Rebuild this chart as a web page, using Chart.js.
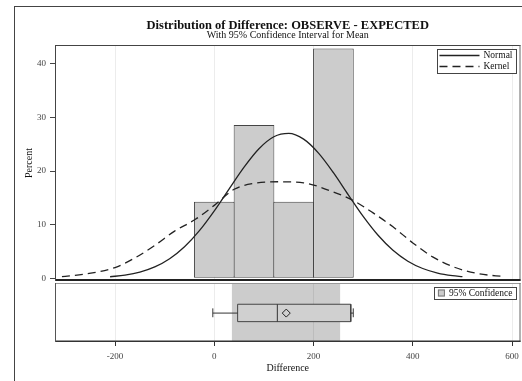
<!DOCTYPE html>
<html>
<head>
<meta charset="utf-8">
<script src="https://cdn.jsdelivr.net/npm/chart.js@4/dist/chart.umd.min.js"></script>
<style>
  html, body { margin: 0; padding: 0; background: #fff; overflow: hidden; width: 522px; height: 381px; }
  #frame { position: absolute; left: 14px; top: 6px; width: 600px; height: 500px; border: 1px solid #444; }
  #histChart { position: absolute; left: 0; top: 0; }
  #boxChart { position: absolute; left: 0; top: 282px; }
</style>
</head>
<body>
<div id="frame"></div>
<canvas id="histChart" width="522" height="282" style="width:522px;height:282px"></canvas>
<canvas id="boxChart" width="522" height="99" style="width:522px;height:99px"></canvas>
<script>
// histogram bins (midpoints) and percent of observations
const binMids = [0, 80, 160, 240];
const binPercent = [14.29, 28.57, 14.29, 42.86];

// fitted normal curve
const normalX = [-210, -180, -150, -120, -90, -60, -30, 0, 30, 60, 90, 120, 150, 180, 210, 240, 270, 300, 330, 360, 390, 420, 450, 480, 500];
const normalY = [0.29, 0.6, 1.16, 2.13, 3.66, 5.89, 8.89, 12.59, 16.69, 20.74, 24.17, 26.4, 27.03, 25.95, 23.35, 19.7, 15.57, 11.54, 8.02, 5.22, 3.19, 1.83, 0.98, 0.49, 0.3];

// kernel density curve
const kernelX = [-307, -260, -200, -160, -119, -80, -38, 0, 40, 80, 130, 180, 240, 280, 320, 360, 400, 440, 480, 530, 586];
const kernelY = [0.3, 0.8, 2.0, 3.8, 6.2, 8.8, 11.0, 13.6, 16.6, 17.7, 18.0, 17.8, 16.1, 14.5, 12.2, 9.6, 6.6, 4.0, 2.2, 0.9, 0.3];

// box plot: min, q1, median, q3, max
const boxStats = [-3, 47, 127, 275, 280];
const meanDiff = 145;
const ciMean = [35, 254];

const xTicks = [-200, 0, 200, 400, 600];
const yTicks = [0, 10, 20, 30, 40];

const serif = 'Liberation Serif, Times New Roman, serif';
const xMin = -321;
const xMax = 617;

// keep the axis from pushing the plot area in
const noPad = (s) => {
  s.paddingLeft = 0;
  s.paddingRight = 0;
  s.paddingTop = 0;
  s.paddingBottom = 0;
};

// box outline around the chart area
const panelFrame = {
  id: 'panelFrame',
  afterDatasetsDraw(chart, args, opts) {
    const { ctx, chartArea: a } = chart;
    const sides = opts.sides || {};
    ctx.save();
    const line = (s, x0, y0, x1, y1) => {
      const [color, width] = s;
      ctx.strokeStyle = color;
      ctx.lineWidth = width;
      ctx.beginPath();
      ctx.moveTo(x0, y0);
      ctx.lineTo(x1, y1);
      ctx.stroke();
    };
    line(sides.top, a.left, a.top + 0.5, a.right, a.top + 0.5);
    line(sides.right, a.right - 0.5, a.top, a.right - 0.5, a.bottom);
    line(sides.bottom, a.left, a.bottom - sides.bottom[1] / 2, a.right, a.bottom - sides.bottom[1] / 2);
    line(sides.left, a.left + 0.5, a.top, a.left + 0.5, a.bottom);
    ctx.restore();
  },
};

// legend box drawn inside the top right corner
const insideLegend = {
  id: 'insideLegend',
  afterDraw(chart, args, opts) {
    const { ctx, chartArea: a } = chart;
    const items = opts.items;
    ctx.save();
    ctx.font = '9.5px ' + serif;
    const textW = Math.max(...items.map((it) => ctx.measureText(it.label).width));
    const w = opts.padLeft + opts.symbolWidth + 4 + textW + 4;
    const h = items.length * opts.rowHeight + 2;
    const x = a.right - 4 - w;
    const y = a.top + 4;
    ctx.fillStyle = '#fff';
    ctx.fillRect(x, y, w, h);
    ctx.strokeStyle = '#444';
    ctx.lineWidth = 1;
    ctx.strokeRect(Math.round(x) + 0.5, Math.round(y) + 0.5, Math.round(w), Math.round(h));
    items.forEach((it, i) => {
      const cy = y + 1 + opts.rowHeight * (i + 0.5);
      const sx = x + opts.padLeft;
      if (it.swatch) {
        ctx.fillStyle = it.swatch;
        ctx.fillRect(sx, cy - 3.5, 7, 7);
        ctx.strokeStyle = '#777';
        ctx.strokeRect(sx + 0.5, cy - 3, 6, 6);
      } else {
        ctx.strokeStyle = '#222';
        ctx.lineWidth = 1.3;
        ctx.setLineDash(it.dash || []);
        ctx.beginPath();
        ctx.moveTo(sx, cy);
        ctx.lineTo(sx + opts.symbolWidth, cy);
        ctx.stroke();
        ctx.setLineDash([]);
      }
      ctx.fillStyle = '#111';
      ctx.textBaseline = 'middle';
      ctx.textAlign = 'left';
      ctx.fillText(it.label, sx + opts.symbolWidth + 4, cy);
    });
    ctx.restore();
  },
};

const toPoints = (xs, ys) => xs.map((x, i) => ({ x, y: ys[i] }));

const histConfig = {
  type: 'bar',
  data: {
    datasets: [
      {
        type: 'bar',
        label: 'Percent',
        data: toPoints(binMids, binPercent),
        backgroundColor: '#cccccc',
        borderColor: '#444',
        borderWidth: 1,
        borderSkipped: false,
        barPercentage: 1.025,
        categoryPercentage: 1,
        order: 2,
      },
      {
        type: 'line',
        label: 'Normal',
        data: toPoints(normalX, normalY),
        borderColor: '#222',
        borderWidth: 1.3,
        pointRadius: 0,
        cubicInterpolationMode: 'monotone',
        fill: false,
        order: 0,
      },
      {
        type: 'line',
        label: 'Kernel',
        data: toPoints(kernelX, kernelY),
        borderColor: '#222',
        borderWidth: 1.3,
        borderDash: [8, 5],
        pointRadius: 0,
        cubicInterpolationMode: 'monotone',
        fill: false,
        order: 1,
      },
    ],
  },
  options: {
    responsive: false,
    animation: false,
    layout: { autoPadding: false, padding: { left: 0, right: 1.5, top: 0, bottom: 1 } },
    plugins: {
      legend: { display: false },
      tooltip: { enabled: false },
      title: {
        display: true,
        fullSize: false,
        text: 'Distribution of Difference: OBSERVE - EXPECTED',
        color: '#111',
        font: { family: serif, size: 12.5, weight: 'bold', lineHeight: 1 },
        padding: { top: 19.5, bottom: 0 },
      },
      subtitle: {
        display: true,
        fullSize: false,
        text: 'With 95% Confidence Interval for Mean',
        color: '#111',
        font: { family: serif, size: 10, lineHeight: 1 },
        padding: { top: -1.5, bottom: 4.5 },
      },
      panelFrame: {
        sides: { top: ['#444', 1], right: ['#666', 1], bottom: ['#222', 2], left: ['#444', 1] },
      },
      insideLegend: {
        padLeft: 2,
        symbolWidth: 40,
        rowHeight: 11,
        items: [
          { label: 'Normal' },
          { label: 'Kernel', dash: [8, 5] },
        ],
      },
    },
    scales: {
      x: {
        type: 'linear',
        min: xMin,
        max: xMax,
        offset: false,
        afterBuildTicks: (s) => { s.ticks = xTicks.map((v) => ({ value: v })); },
        afterFit: (s) => { s.height = 0; noPad(s); },
        ticks: { display: false },
        grid: { offset: false, color: '#ececec', drawTicks: false },
        border: { display: false },
      },
      y: {
        type: 'linear',
        min: -0.5,
        max: 43.5,
        afterBuildTicks: (s) => { s.ticks = yTicks.map((v) => ({ value: v })); },
        afterFit: (s) => { s.width = 55; noPad(s); },
        ticks: { color: '#444', padding: 4, font: { family: serif, size: 9 } },
        grid: { drawOnChartArea: false, drawTicks: true, tickLength: 5, tickColor: '#444' },
        border: { display: false },
        title: {
          display: true,
          text: 'Percent',
          color: '#111',
          font: { family: serif, size: 10, lineHeight: 1.2 },
          padding: { top: 23.5, bottom: 0 },
        },
      },
    },
  },
  plugins: [panelFrame, insideLegend],
};

new Chart(document.getElementById('histChart'), histConfig);

// lower panel: box plot and confidence band for the mean
const boxLow = 0.345;
const boxHigh = 0.64;
const whiskerY = 0.49;
const capLow = 0.42;
const capHigh = 0.57;
const [bMin, bQ1, bMed, bQ3, bMax] = boxStats;

const segment = (points, extra) => Object.assign({
  type: 'line',
  data: points,
  borderColor: '#333',
  borderWidth: 1,
  pointRadius: 0,
  fill: false,
  order: 1,
}, extra);

const boxConfig = {
  type: 'line',
  data: {
    datasets: [
      segment([{ x: ciMean[0], y: 1 }, { x: ciMean[1], y: 1 }], {
        label: '95% Confidence',
        borderWidth: 0,
        fill: { value: 0 },
        backgroundColor: 'rgba(0,0,0,0.2)',
        order: 5,
      }),
      segment([
        { x: bQ1, y: boxLow }, { x: bQ1, y: boxHigh }, { x: bQ3, y: boxHigh },
        { x: bQ3, y: boxLow }, { x: bQ1, y: boxLow },
      ], { fill: 'shape', backgroundColor: '#d0d0d0', borderColor: '#444', order: 4 }),
      segment([{ x: bMed, y: boxLow }, { x: bMed, y: boxHigh }]),
      segment([{ x: bMin, y: whiskerY }, { x: bQ1, y: whiskerY }]),
      segment([{ x: bQ3, y: whiskerY }, { x: bMax, y: whiskerY }]),
      segment([{ x: bMin, y: capLow }, { x: bMin, y: capHigh }]),
      segment([{ x: bMax, y: capLow }, { x: bMax, y: capHigh }]),
      {
        type: 'line',
        label: 'Mean',
        data: [{ x: meanDiff, y: whiskerY }],
        showLine: false,
        pointStyle: 'rectRot',
        pointRadius: 4,
        pointBackgroundColor: '#d0d0d0',
        pointBorderColor: '#222',
        pointBorderWidth: 1,
        order: 0,
      },
    ],
  },
  options: {
    responsive: false,
    animation: false,
    layout: { autoPadding: false, padding: { left: 0, right: 1.5, top: 1, bottom: 0 } },
    plugins: {
      legend: { display: false },
      tooltip: { enabled: false },
      panelFrame: {
        sides: { top: ['#999', 1], right: ['#666', 1], bottom: ['#333', 1.5], left: ['#555', 1] },
      },
      insideLegend: {
        padLeft: 3.5,
        symbolWidth: 7,
        rowHeight: 10,
        items: [{ label: '95% Confidence', swatch: '#cccccc' }],
      },
    },
    scales: {
      x: {
        type: 'linear',
        min: xMin,
        max: xMax,
        offset: false,
        afterBuildTicks: (s) => { s.ticks = xTicks.map((v) => ({ value: v })); },
        afterFit: (s) => { s.height = 39; noPad(s); },
        ticks: { color: '#444', padding: 5, font: { family: serif, size: 9 } },
        grid: { offset: false, color: '#ececec', drawTicks: true, tickLength: 4, tickColor: '#333' },
        border: { display: false },
        title: {
          display: true,
          text: 'Difference',
          color: '#111',
          font: { family: serif, size: 10, lineHeight: 1.2 },
          padding: { top: 0, bottom: 7 },
        },
      },
      y: {
        type: 'linear',
        min: 0,
        max: 1,
        afterFit: (s) => { s.width = 55; noPad(s); },
        ticks: { display: false },
        grid: { display: false },
        border: { display: false },
      },
    },
  },
  plugins: [panelFrame, insideLegend],
};

new Chart(document.getElementById('boxChart'), boxConfig);
</script>
</body>
</html>
